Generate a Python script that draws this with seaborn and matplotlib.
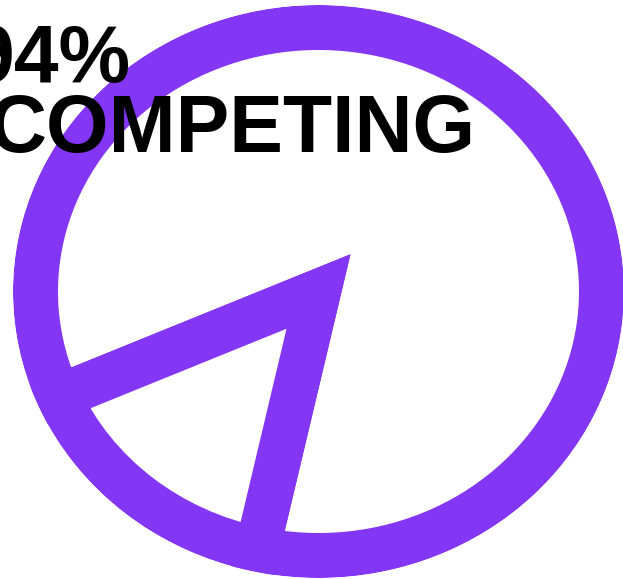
import matplotlib
matplotlib.use("Agg")
import matplotlib.pyplot as plt
from matplotlib.patches import Ellipse
import seaborn as sns

# pie data (small slice vs the rest)
shares = [85, 15]
start_deg = 257.5

headline_value = "94%"
headline_label = "COMPETING"

purple = "#8436f5"

sns.set_theme(style="white")
plt.rcParams['font.family'] = ['Liberation Sans', 'DejaVu Sans']

W, H = 623, 579
fig = plt.figure(figsize=(W / 100, H / 100), dpi=100)
ax = fig.add_axes([0, 0, 1, 1])

lw_px = 45
wedges, _ = ax.pie(shares, startangle=start_deg, radius=1,
                   colors=["white", "white"],
                   wedgeprops=dict(edgecolor=purple, linewidth=lw_px * 0.72,
                                   joinstyle="miter"))

# stretched view, pie centre sits left/below of the middle
sx, sy = 283.0, 264.0   # px per unit
cx, cy = 318.5, 579 - 291.5
ax.set_aspect("auto")
ax.set_xlim(-cx / sx, (W - cx) / sx)
ax.set_ylim(-cy / sy, (H - cy) / sy)
ax.axis("off")

# trim the miter spikes where the slice edges meet the rim
rim = Ellipse((0, 0), 2 * (sx + lw_px / 2) / sx, 2 * (sy + lw_px / 2) / sy,
              transform=ax.transData)
for w in wedges:
    w.set_clip_on(True)
    w.set_clip_path(rim)

fig.text(130 / W, 1 - 82 / H, headline_value, ha="right", va="baseline",
         fontsize=58, fontweight="bold", color="black")
fig.text(476 / W, 1 - 152 / H, headline_label, ha="right", va="baseline",
         fontsize=58, fontweight="bold", color="black")

fig.savefig("out.png", dpi=100, facecolor="white")
